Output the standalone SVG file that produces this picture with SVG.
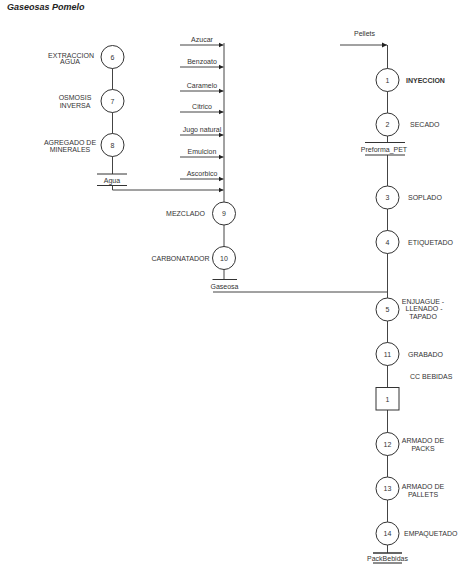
<svg xmlns="http://www.w3.org/2000/svg" width="461" height="574" viewBox="0 0 461 574">
<style>
text{font-family:"Liberation Sans",Arial,sans-serif;font-size:7px;fill:#333}
.c{text-anchor:middle}
.n circle{fill:#fff;stroke:#333;stroke-width:1}
.n text{text-anchor:middle;dominant-baseline:central}
.l{fill:none;stroke:#444;stroke-width:1}
.s{stroke:#333;stroke-width:1}
</style>
<defs>
<marker id="a" markerWidth="6" markerHeight="6" refX="5" refY="3" orient="auto" markerUnits="userSpaceOnUse">
<path d="M0,0.5 L5,3 L0,5.5 Z" fill="#222"/>
</marker>
</defs>
<rect width="461" height="574" fill="#fff"/>
<text x="7" y="10" style="font-size:9px;font-weight:bold;font-style:italic;fill:#222">Gaseosas Pomelo</text>

<g id="connectors">
<path class="l" d="M112.5,57V174"/>
<path class="l" d="M112.5,185.5V190H223.5" marker-end="url(#a)"/>
<path class="l" d="M224,43V247"/>
<path class="l" d="M180,45H223.5" marker-end="url(#a)"/>
<path class="l" d="M180,67H223.5" marker-end="url(#a)"/>
<path class="l" d="M180,91H223.5" marker-end="url(#a)"/>
<path class="l" d="M180,112H223.5" marker-end="url(#a)"/>
<path class="l" d="M180,135H223.5" marker-end="url(#a)"/>
<path class="l" d="M180,157H223.5" marker-end="url(#a)"/>
<path class="l" d="M180,179H223.5" marker-end="url(#a)"/>
<path class="l" d="M224,269V279.5"/>
<path class="l" d="M213,292H387.5"/>
<path class="l" d="M340,45H387" marker-end="url(#a)"/>
<path class="l" d="M387.5,45V142.5"/>
<path class="l" d="M387.5,155V387.5"/>
<path class="l" d="M387.5,410V553"/>
</g>
<g id="inputs">
<text class="c" x="202" y="42">Azucar</text>
<text class="c" x="202" y="64">Benzoato</text>
<text class="c" x="202" y="88">Caramelo</text>
<text class="c" x="202" y="109">Citrico</text>
<text class="c" x="202" y="132">Jugo natural</text>
<text class="c" x="202" y="154">Emulcion</text>
<text class="c" x="202" y="176">Ascorbico</text>
<text x="354" y="36">Pellets</text>
</g>

<g id="n6" class="n"><circle cx="112.5" cy="57" r="11.5"/><text x="112.5" y="57">6</text></g>
<text class="c" x="71" y="57.5">EXTRACCION</text><text class="c" x="70" y="64">AGUA</text>
<g id="n7" class="n"><circle cx="112.5" cy="101" r="11.5"/><text x="112.5" y="101">7</text></g>
<text class="c" x="75" y="100">OSMOSIS</text><text class="c" x="75" y="107.5">INVERSA</text>
<g id="n8" class="n"><circle cx="112.5" cy="145" r="11.5"/><text x="112.5" y="145">8</text></g>
<text class="c" x="70" y="144.5">AGREGADO DE</text><text class="c" x="70" y="151.5">MINERALES</text>
<g id="agua"><path class="s" d="M97,174H127M97,185.5H127"/><text class="c" x="112" y="182.5">Agua</text></g>

<g id="n9" class="n"><circle cx="224" cy="213.5" r="11.5"/><text x="224" y="213.5">9</text></g>
<text x="205" y="216" text-anchor="end">MEZCLADO</text>
<g id="n10" class="n"><circle cx="224" cy="258" r="11.5"/><text x="224" y="258">10</text></g>
<text x="209.5" y="260.5" text-anchor="end">CARBONATADOR</text>
<g id="gaseosa"><path class="s" d="M212.5,279.5H237"/><text class="c" x="224.5" y="289">Gaseosa</text></g>

<g id="n1" class="n"><circle cx="387.5" cy="80" r="11.5"/><text x="387.5" y="80">1</text></g>
<text x="406" y="82.5" style="font-weight:bold">INYECCION</text>
<g id="n2" class="n"><circle cx="387.5" cy="124.5" r="11.5"/><text x="387.5" y="124.5">2</text></g>
<text x="410" y="127">SECADO</text>
<g id="preforma"><path class="s" d="M365,142.5H405M365,155H405"/><text class="c" x="384" y="151.5">Preforma_PET</text></g>
<g id="n3" class="n"><circle cx="387.5" cy="197.5" r="11.5"/><text x="387.5" y="197.5">3</text></g>
<text x="408" y="200">SOPLADO</text>
<g id="n4" class="n"><circle cx="387.5" cy="242" r="11.5"/><text x="387.5" y="242">4</text></g>
<text x="408" y="244.5">ETIQUETADO</text>
<g id="n5" class="n"><circle cx="387.5" cy="309.5" r="11.5"/><text x="387.5" y="309.5">5</text></g>
<text class="c" x="423" y="303.5">ENJUAGUE -</text><text class="c" x="424" y="311">LLENADO -</text><text class="c" x="423" y="318.5">TAPADO</text>
<g id="n11" class="n"><circle cx="387.5" cy="354" r="11.5"/><text x="387.5" y="354">11</text></g>
<text x="408" y="356.5">GRABADO</text>
<text x="410" y="379">CC BEBIDAS</text>
<g id="cc1" class="n"><rect x="376" y="387.5" width="23" height="22.5" fill="#fff" stroke="#333"/><text x="387.5" y="399">1</text></g>
<g id="n12" class="n"><circle cx="387.5" cy="444" r="11.5"/><text x="387.5" y="444">12</text></g>
<text class="c" x="423" y="442.5">ARMADO DE</text><text class="c" x="423" y="450.5">PACKS</text>
<g id="n13" class="n"><circle cx="387.5" cy="488.5" r="11.5"/><text x="387.5" y="488.5">13</text></g>
<text class="c" x="423" y="488.5">ARMADO DE</text><text class="c" x="423" y="496.5">PALLETS</text>
<g id="n14" class="n"><circle cx="387.5" cy="533.5" r="11.5"/><text x="387.5" y="533.5">14</text></g>
<text x="404" y="536">EMPAQUETADO</text>
<g id="pack"><path d="M373,553H402" stroke="#333" stroke-width="1.5"/><path d="M373,563H402" stroke="#666" stroke-width="1.5"/><text class="c" x="387.5" y="560.5">PackBebidas</text></g>
</svg>
